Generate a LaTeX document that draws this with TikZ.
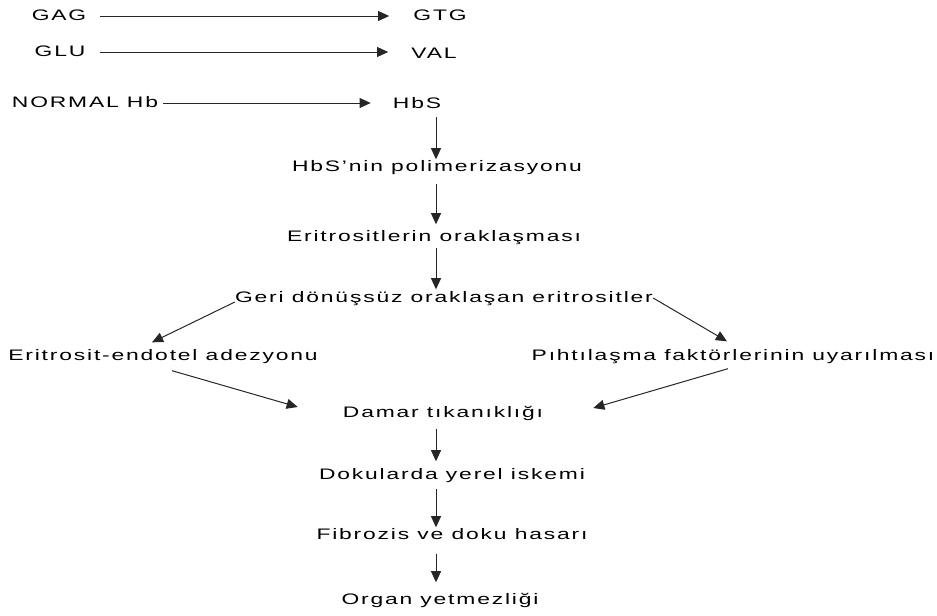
\documentclass[tikz,border=0pt]{standalone}
\usepackage{fontspec}
\setmainfont{Liberation Sans}[FakeStretch=1.5,LetterSpace=12]
\usetikzlibrary{arrows.meta}

\tikzset{
    lbl/.style={font=\fontsize{13}{15}\selectfont, inner sep=0pt, text height=9pt, text depth=2pt},
    arr/.style={-{Triangle[length=9.5pt,width=8.5pt]}, line width=0.85pt, draw=black!85},
}

\begin{document}
\begin{tikzpicture}[x=0.03cm, y=-0.03cm]
    \useasboundingbox (0,0) rectangle (937,615);
    \coordinate (spine) at (436,0);

    % codon and amino acid
    \node[lbl] (gag) at (59,16) {GAG};
    \node[lbl] (gtg) at (440,16) {GTG};
    \node[lbl] (glu) at (60,52) {GLU};
    \node[lbl] (val) at (434,54) {VAL};
    \node[lbl] (hba) at (85,103) {NORMAL Hb};
    \node[lbl] (hbs) at (417,104) {HbS};

    \draw[arr, shorten <=0.42cm, shorten >=0.72cm] (gag.east) -- (gag.east -| gtg.west);
    \draw[arr, shorten <=0.42cm, shorten >=0.69cm] (glu.east) -- (glu.east -| val.west);
    \draw[arr, shorten <=0.15cm, shorten >=0.66cm] (hba.east) -- (hba.east -| hbs.west);

    % main chain
    \node[lbl] (poly) at (437,167) {HbS'nin polimerizasyonu};
    \node[lbl] (orak) at (434,237) {Eritrositlerin oraklaşması};
    \node[lbl] (geri) at (444,298) {Geri dönüşsüz oraklaşan eritrositler};
    \node[lbl] (adez) at (163,356) {Eritrosit-endotel adezyonu};
    \node[lbl] (piht) at (733,356) {Pıhtılaşma faktörlerinin uyarılması};
    \node[lbl] (damar) at (443,413) {Damar tıkanıklığı};
    \node[lbl] (iskemi) at (452,475) {Dokularda yerel iskemi};
    \node[lbl] (hasar) at (452,535) {Fibrozis ve doku hasarı};
    \node[lbl] (organ) at (440,600) {Organ yetmezliği};

    \draw[arr, shorten <=0.2cm, shorten >=0.03cm] (hbs.south -| spine) -- (poly.north -| spine);
    \draw[arr, shorten <=0.3cm, shorten >=0.18cm] (poly.south -| spine) -- (orak.north -| spine);
    \draw[arr, shorten <=0.12cm, shorten >=0.06cm] (orak.south -| spine) -- (geri.north -| spine);

    \draw[arr] ([yshift=-0.12cm]geri.west) -- ([xshift=-0.33cm,yshift=0.21cm]adez.north);
    \draw[arr] (geri.east) -- ([xshift=-0.18cm,yshift=0.24cm]piht.north);
    \draw[arr] ([xshift=0.27cm,yshift=-0.24cm]adez.south) -- ([xshift=-1.35cm,yshift=0.18cm]damar.west);
    \draw[arr] ([xshift=-0.15cm,yshift=-0.18cm]piht.south) -- ([xshift=1.5cm,yshift=0.15cm]damar.east);

    \draw[arr, shorten <=0.27cm, shorten >=0.21cm] (damar.south -| spine) -- (iskemi.north -| spine);
    \draw[arr, shorten <=0.21cm, shorten >=0.03cm] (iskemi.south -| spine) -- (hasar.north -| spine);
    \draw[arr, shorten <=0.36cm, shorten >=0.33cm] (hasar.south -| spine) -- (organ.north -| spine);
\end{tikzpicture}
\end{document}
